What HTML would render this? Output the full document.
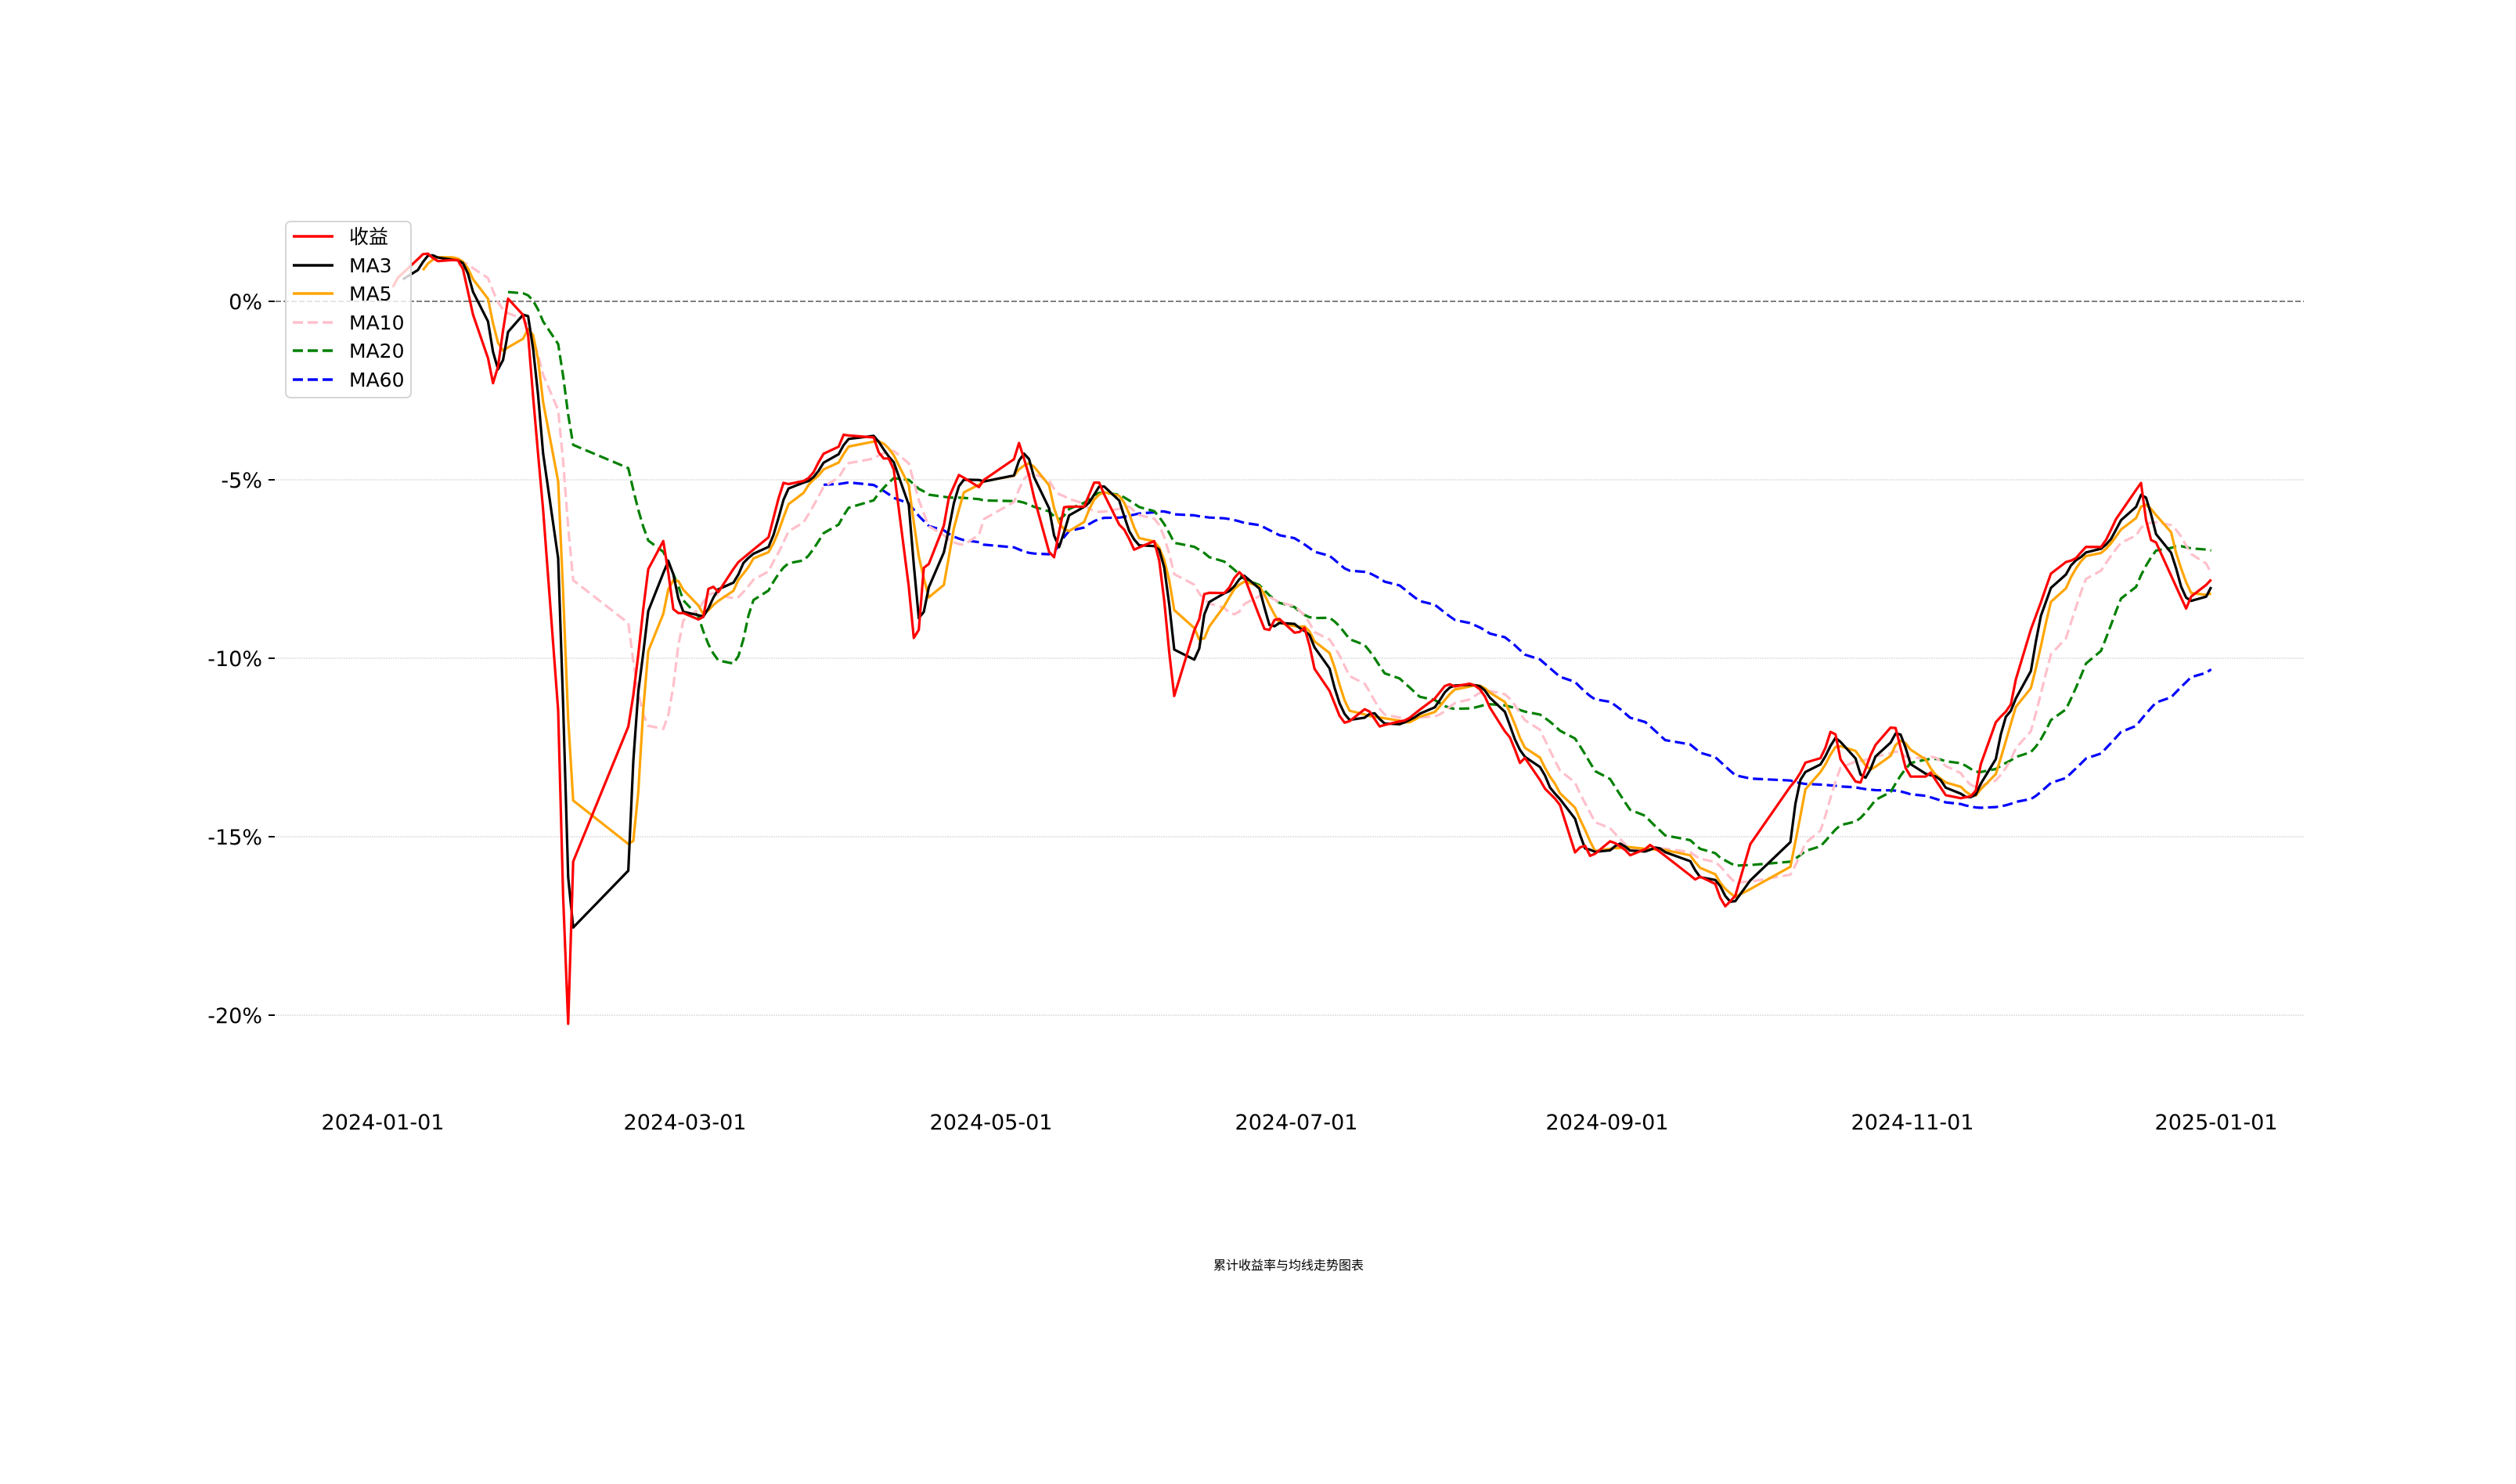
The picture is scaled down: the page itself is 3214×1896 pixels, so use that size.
<!DOCTYPE html>
<html><head><meta charset="utf-8">
<style>
html,body{margin:0;padding:0;background:#fff;}
svg{display:block;}
text{font-family:"DejaVu Sans","Liberation Sans","Noto Sans CJK SC",sans-serif;}
</style></head>
<body>
<svg id="s" xmlns="http://www.w3.org/2000/svg" width="3214" height="1896" viewBox="0 0 3214 1896">
<rect width="3214" height="1896" fill="#fff"/>
<g id="grid" stroke="#e6e6e6" stroke-width="2" stroke-dasharray="2,1">
<line x1="352" x2="2943" y1="613" y2="613"/>
<line x1="352" x2="2943" y1="841" y2="841"/>
<line x1="352" x2="2943" y1="1069" y2="1069"/>
<line x1="352" x2="2943" y1="1297" y2="1297"/>
</g>
<line x1="352" x2="2943" y1="385" y2="385" stroke="#808080" stroke-width="2" stroke-dasharray="7,3"/>
<g stroke="#000" stroke-width="2">
<line x1="343" x2="351" y1="385" y2="385"/>
<line x1="343" x2="351" y1="613" y2="613"/>
<line x1="343" x2="351" y1="841" y2="841"/>
<line x1="343" x2="351" y1="1069" y2="1069"/>
<line x1="343" x2="351" y1="1297" y2="1297"/>
</g>
<g font-size="27" text-anchor="end" fill="#000">
<text x="335" y="395">0%</text>
<text x="335" y="623">-5%</text>
<text x="335" y="851">-10%</text>
<text x="335" y="1079">-15%</text>
<text x="335" y="1307">-20%</text>
</g>
<g font-size="27" text-anchor="middle" fill="#000">
<text x="489" y="1443">2024-01-01</text>
<text x="875" y="1443">2024-03-01</text>
<text x="1266" y="1443">2024-05-01</text>
<text x="1656" y="1443">2024-07-01</text>
<text x="2053" y="1443">2024-09-01</text>
<text x="2443" y="1443">2024-11-01</text>
<text x="2831" y="1443">2025-01-01</text>
</g>
<text x="1646" y="1622" font-size="16" text-anchor="middle" fill="#000">累计收益率与均线走势图表</text>
<g id="lines" fill="none" stroke-linejoin="round"></g>
<rect x="365" y="283" width="160" height="225" rx="6" fill="#fff" fill-opacity="0.8" stroke="#d6d6d6" stroke-width="2"/>
<g stroke-width="3.5">
<line x1="374" x2="426" y1="302" y2="302" stroke="#ff0000"/>
<line x1="374" x2="426" y1="339" y2="339" stroke="#000"/>
<line x1="374" x2="426" y1="375" y2="375" stroke="#ffa500"/>
<line x1="374" x2="426" y1="412" y2="412" stroke="#ffc0cb" stroke-dasharray="13,6"/>
<line x1="374" x2="426" y1="448" y2="448" stroke="#008000" stroke-dasharray="13,6"/>
<line x1="374" x2="426" y1="485" y2="485" stroke="#0000ff" stroke-dasharray="13,6"/>
</g>
<g font-size="25" fill="#000">
<text x="446" y="311">收益</text>
<text x="446" y="348">MA3</text>
<text x="446" y="384">MA5</text>
<text x="446" y="421">MA10</text>
<text x="446" y="457">MA20</text>
<text x="446" y="494">MA60</text>
</g>
</svg>
<script>
(function(){
var K=[[240,187],[248,172],[256,165],[265,156],[272,162],[285,161],[290,170],[293,193],[300,203],[308,243],[316,185],[328,198],[333,260],[342,360],[348,450],[353,660],[357,530],[392,450],[397,410],[403,355],[410,340],[414,335],[418,378],[423,382],[430,380],[437,388],[442,360],[446,370],[451,362],[459,350],[465,345],[471,340],[478,335],[487,300],[495,302],[505,296],[512,282],[520,282],[525,270],[535,272],[543,270],[548,285],[555,285],[562,330],[570,412],[575,350],[583,352],[590,310],[598,292],[604,310],[613,297],[630,288],[634,275],[640,295],[648,330],[655,350],[662,315],[668,315],[675,315],[680,300],[685,300],[690,320],[700,330],[707,345],[713,328],[720,340],[725,380],[730,436],[735,400],[745,390],[750,365],[756,375],[765,365],[770,355],[775,360],[780,375],[788,395],[793,385],[800,385],[806,395],[812,390],[818,418],[825,425],[835,450],[842,448],[850,440],[858,452],[865,450],[875,448],[885,440],[892,435],[900,425],[907,428],[915,425],[922,430],[930,448],[940,460],[945,475],[950,470],[960,490],[970,500],[975,535],[985,525],[990,535],[997,522],[1005,525],[1012,530],[1018,538],[1025,525],[1032,530],[1045,540],[1055,548],[1063,540],[1072,565],[1079,558],[1090,520],[1100,505],[1118,484],[1125,470],[1133,472],[1140,450],[1147,485],[1157,487],[1165,465],[1178,450],[1185,478],[1192,490],[1200,480],[1210,495],[1218,497],[1228,495],[1235,458],[1242,448],[1250,440],[1256,410],[1270,372],[1275,357],[1283,350],[1290,348],[1297,340],[1303,345],[1310,335],[1317,320],[1325,312],[1331,298],[1336,335],[1342,338],[1350,358],[1360,380],[1366,358],[1373,365],[1378,353]];
var kd=K.map(function(p){return [(p[0]-238.5)/3.1134, -(p[1]-187)/22.25];});
function interp(d){
  if(d<=kd[0][0])return kd[0][1];
  for(var i=1;i<kd.length;i++){ if(d<=kd[i][0]){var a=kd[i-1],b=kd[i];return a[1]+(b[1]-a[1])*(d-a[0])/(b[0]-a[0]);}}
  return kd[kd.length-1][1];
}
var hol={};
function addH(m,d1,d2){for(var d=d1;d<=d2;d++)hol[m+'-'+d]=1;}
addH(0,1,1);addH(1,9,18);addH(3,4,5);addH(4,1,3);addH(5,10,10);addH(8,16,17);addH(9,1,7);
var days=[],vals=[];
var start=Date.UTC(2024,0,1);
for(var i=0;i<=366;i++){
  var dt=new Date(start+i*86400000);
  if(dt.getUTCFullYear()>2024)break;
  var wd=dt.getUTCDay(); if(wd==0||wd==6)continue;
  if(hol[dt.getUTCMonth()+'-'+dt.getUTCDate()])continue;
  if(i<2)continue;
  days.push(i); vals.push(interp(i));
}
function X(d){return 489+d*6.399;}
function Y(p){return 385-p*45.6;}
function ma(n,mp){mp=mp||n;var r=[];for(var i=0;i<vals.length;i++){if(i<mp-1){r.push(null);continue;}var s=0,c=0;for(var j=Math.max(0,i-n+1);j<=i;j++){s+=vals[j];c++;}r.push(s/c);}return r;}
function path(arr){var s='';var m=true;for(var i=0;i<arr.length;i++){if(arr[i]==null)continue;s+=(m?'M':'L')+X(days[i]).toFixed(1)+','+Y(arr[i]).toFixed(1);m=false;}return s;}
var series=[[ma(60,57),'#0000ff','13,6'],[ma(20,18),'#008000','13,6'],[ma(10),'#ffc0cb','13,6'],[ma(5),'#ffa500',null],[ma(3),'#000000',null],[vals,'#ff0000',null]];
var g=document.getElementById('lines');var ns='http://www.w3.org/2000/svg';
series.forEach(function(s){var p=document.createElementNS(ns,'path');p.setAttribute('d',path(s[0]));p.setAttribute('stroke',s[1]);p.setAttribute('stroke-width','3.2');if(s[2])p.setAttribute('stroke-dasharray',s[2]);g.appendChild(p);});
})();
</script>
</body></html>
